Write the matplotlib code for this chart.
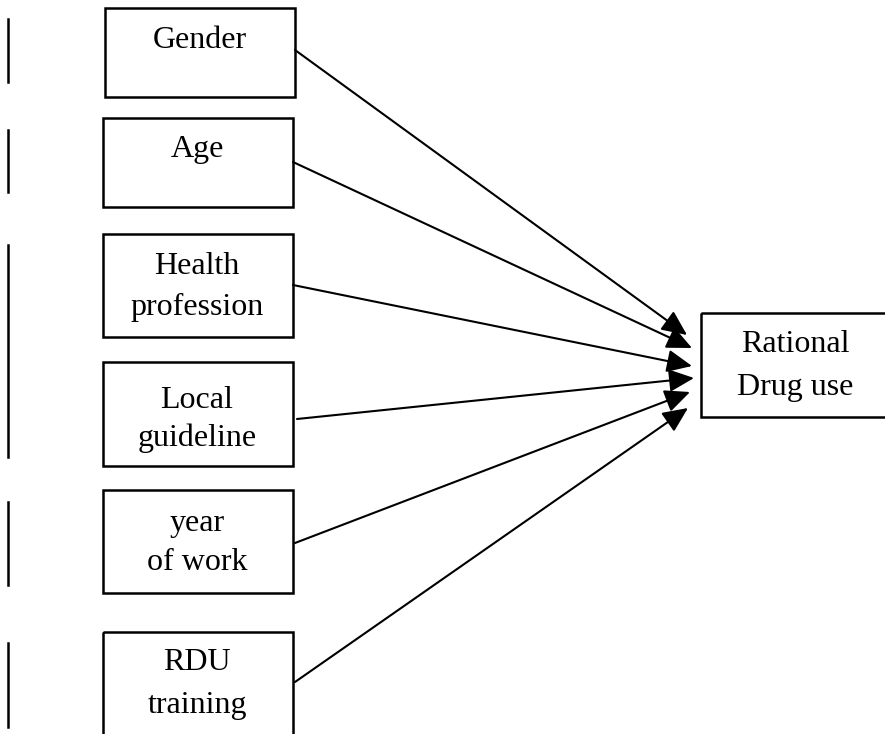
import matplotlib
matplotlib.use("Agg")
import matplotlib.pyplot as plt
from matplotlib.patches import Rectangle, FancyArrowPatch

# Labels
factors = ["Gender", "Age", "Health\nprofession", "Local\nguideline", "year\nof work", "RDU\ntraining"]
outcome = "Rational\nDrug use"

# Layout (pixel coordinates, y downward)
boxes = [(105, 8, 190, 89), (103, 118, 190, 89), (103, 234, 190, 103),
         (103, 362, 190, 104), (103, 490, 190, 103), (103, 632, 190, 110)]
text_y = [[40], [150], [267, 307], [400, 438], [523, 563], [663, 706]]
text_x = [200, 197, 197, 197, 197, 197]
starts = [(295, 50), (293, 162), (293, 285), (297, 419), (295, 543), (295, 682)]
tips = [(687, 335), (692, 348), (692, 366), (694, 378), (690, 392), (688, 408)]
bars = [(19, 82), (130, 192), (245, 457), (502, 585), (643, 727)]
out_box = (701, 313, 200, 104)

fig = plt.figure(figsize=(8.85, 7.34), dpi=100)
ax = fig.add_axes([0, 0, 1, 1])
ax.set_xlim(0, 885)
ax.set_ylim(734, 0)
ax.axis("off")

font = dict(family="Liberation Serif", fontsize=23, ha="center", va="center")
lw = 1.8

for (x, y, w, h), lab, ys, tx in zip(boxes, factors, text_y, text_x):
    ax.add_patch(Rectangle((x, y), w, h, fill=False, lw=lw, ec="black"))
    for line, yy in zip(lab.split("\n"), ys):
        ax.text(tx, yy, line, **font)

x, y, w, h = out_box
ax.add_patch(Rectangle((x, y), w, h, fill=False, lw=lw, ec="black", clip_on=True))
for line, yy in zip(outcome.split("\n"), [345, 387]):
    ax.text(795, yy, line, **font)

for s, t in zip(starts, tips):
    ax.add_patch(FancyArrowPatch(s, t, arrowstyle="-|>,head_length=1.1,head_width=0.5",
                                 mutation_scale=14, lw=1.5, color="black",
                                 shrinkA=0, shrinkB=0))

for y0, y1 in bars:
    ax.plot([8, 8], [y0, y1], color="black", lw=1.8)

fig.savefig("out.png", dpi=100)
